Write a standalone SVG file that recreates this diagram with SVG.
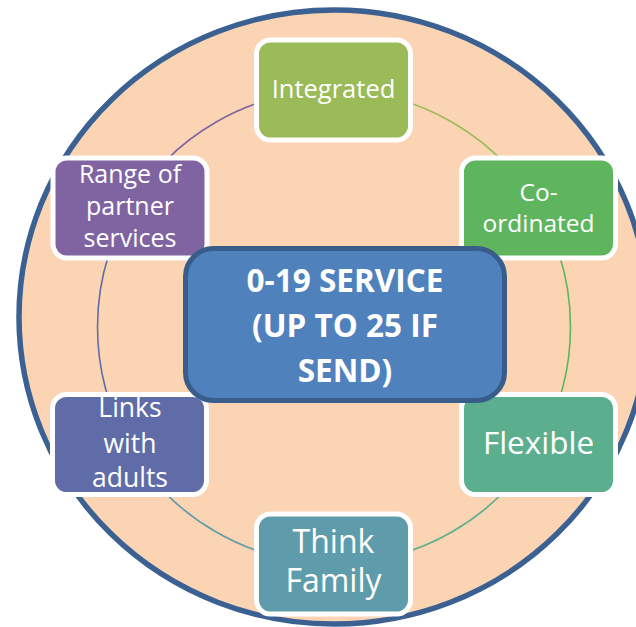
<svg xmlns="http://www.w3.org/2000/svg" width="636" height="627" viewBox="0 0 636 627">
<style>
.node{stroke:#FFFFFF;stroke-width:5}
.t{font-family:"Open Sans","Liberation Sans",sans-serif;fill:#FFFFFF;text-anchor:middle}
.arc{fill:none;stroke-width:1.6}
</style>
<rect x="0" y="0" width="636" height="627" fill="#FFFFFF"/>
<ellipse id="backdrop" cx="334" cy="317" rx="315" ry="307" fill="#FBD4B4" stroke="#3B6192" stroke-width="5.5"/>
<g id="connectors">
<path class="arc" stroke="#9BBB59" d="M334 90.5 A236.5 236.5 0 0 1 538.8 208.75"/>
<path class="arc" stroke="#5FB55E" d="M538.8 208.75 A236.5 236.5 0 0 1 538.8 445.25"/>
<path class="arc" stroke="#5BAF8F" d="M538.8 445.25 A236.5 236.5 0 0 1 334 563.5"/>
<path class="arc" stroke="#5F9CAB" d="M334 563.5 A236.5 236.5 0 0 1 129.2 445.25"/>
<path class="arc" stroke="#5F6CA8" d="M129.2 445.25 A236.5 236.5 0 0 1 129.2 208.75"/>
<path class="arc" stroke="#8064A2" d="M129.2 208.75 A236.5 236.5 0 0 1 334 90.5"/>
</g>
<g id="node-integrated">
<rect class="node" x="256.5" y="40" width="154" height="100" rx="14" fill="#9BBB59"/>
<text class="t" x="333.5" y="98" font-size="25.5">Integrated</text>
</g>
<g id="node-coordinated">
<rect class="node" x="461.5" y="158" width="154" height="100" rx="14" fill="#5FB55E"/>
<text class="t" x="538.5" y="201" font-size="24.5">Co-</text>
<text class="t" x="538.5" y="232" font-size="24.5">ordinated</text>
</g>
<g id="node-flexible">
<rect class="node" x="461.5" y="394.5" width="154" height="100" rx="14" fill="#5BAF8F"/>
<text class="t" x="538.5" y="454" font-size="31.5">Flexible</text>
</g>
<g id="node-think-family">
<rect class="node" x="256.5" y="514" width="154" height="100" rx="14" fill="#5F9CAB"/>
<text class="t" x="333.5" y="553" font-size="32">Think</text>
<text class="t" x="333.5" y="592" font-size="32">Family</text>
</g>
<g id="node-links">
<rect class="node" x="52.5" y="394.5" width="154" height="100" rx="14" fill="#5F6CA8"/>
<text class="t" x="130" y="417" font-size="26.5">Links</text>
<text class="t" x="130" y="453" font-size="26.5">with</text>
<text class="t" x="130" y="487" font-size="26.5">adults</text>
</g>
<g id="node-range">
<rect class="node" x="53" y="158" width="154" height="100" rx="14" fill="#8064A2"/>
<text class="t" x="130" y="183" font-size="25">Range of</text>
<text class="t" x="130" y="215" font-size="25">partner</text>
<text class="t" x="130" y="247" font-size="25">services</text>
</g>
<g id="node-center">
<rect x="185.5" y="248.5" width="319" height="152" rx="28" fill="#4F81BD" stroke="#385D8A" stroke-width="5"/>
<text class="t" x="345" y="292" font-size="31.5" font-weight="bold">0-19 SERVICE</text>
<text class="t" x="345" y="337" font-size="31.5" font-weight="bold">(UP TO 25 IF</text>
<text class="t" x="345" y="382" font-size="31.5" font-weight="bold">SEND)</text>
</g>
</svg>
